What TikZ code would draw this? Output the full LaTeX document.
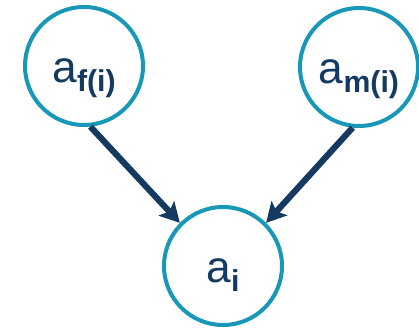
\documentclass[tikz,border=0pt]{standalone}
\usepackage{fontspec}
\setmainfont{Liberation Sans}
\usepackage{tikz}
\usetikzlibrary{arrows.meta}
\definecolor{ring}{HTML}{1898B6}
\definecolor{navy}{HTML}{143A62}
\newcommand{\anclabel}[1]{\fontsize{31.5}{31.5}\selectfont a\raisebox{-6.8pt}{\fontsize{21.5}{21.5}\selectfont\bfseries #1}}

\begin{document}
\begin{tikzpicture}[
    >={Stealth[length=14pt, width=15pt, inset=3pt]},
    vnode/.style={draw=ring, line width=0.1cm, circle, fill=white, minimum size=2.95cm, inner sep=0pt, text height=0.82cm, text depth=0pt, text=navy},
    link/.style={->, draw=navy, line width=4.4pt},
]
    \useasboundingbox (0,0) rectangle (10.475,8.2);

    % parents and child
    \node[vnode] (f) at (2.1, 6.55) {\anclabel{f(i)}};
    \node[vnode] (m) at (8.975, 6.525) {\anclabel{m(i)}};
    \node[vnode] (i) at (5.575, 1.55) {\anclabel{i}};

    \draw[link] (f.-84) -- (i.135);
    \draw[link] (m.-96) -- (i.45);
\end{tikzpicture}
\end{document}
